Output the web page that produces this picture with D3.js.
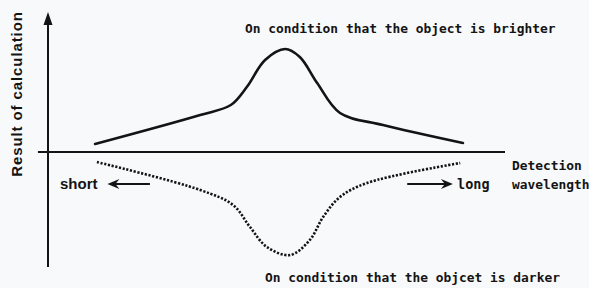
<!DOCTYPE html>
<html>
<head>
<meta charset="utf-8">
<script src="https://cdn.jsdelivr.net/npm/d3@7"></script>
<style>
  html, body { margin: 0; padding: 0; background: #f8f9fb; }
  svg { display: block; }
  .mono { font-family: "DejaVu Sans Mono", "Liberation Mono", monospace; font-weight: bold; }
  .sans { font-family: "Liberation Sans", Arial, sans-serif; font-weight: bold; }
</style>
</head>
<body>
<script>
// wavelength (arbitrary units) and calculation result for each condition
const brightX = [1.03, 3.33, 4.0, 4.35, 4.75, 5.19, 5.51, 5.89, 6.39, 7.33, 9.08];
const brightY = [0.08, 0.37, 0.47, 0.65, 0.92, 1.03, 0.95, 0.69, 0.39, 0.27, 0.09];
const darkX = [1.07, 3.33, 4.05, 4.42, 4.79, 5.30, 5.73, 6.02, 6.39, 6.98, 9.02];
const darkY = [-0.10, -0.38, -0.53, -0.75, -0.95, -1.03, -0.88, -0.65, -0.45, -0.31, -0.11];

const labels = {
  yAxis: "Result of calculation",
  bright: "On condition that the object is brighter",
  dark: "On condition that the objcet is darker",
  short: "short",
  long: "long",
  xAxis: ["Detection", "wavelength"]
};

const W = 589, H = 288;
const ink = "#141414";

const svg = d3.select("body").append("svg")
  .attr("width", W).attr("height", H);

const x = d3.scaleLinear().domain([0, 10]).range([48, 505]);
const y = d3.scaleLinear().domain([-1.15, 1.4]).range([267, 12]);

// axes
svg.append("line")
  .attr("x1", x(-0.22)).attr("x2", x(10))
  .attr("y1", y(0)).attr("y2", y(0))
  .attr("stroke", ink).attr("stroke-width", 2);

svg.append("line")
  .attr("x1", x(0)).attr("x2", x(0))
  .attr("y1", y(-1.15)).attr("y2", y(1.28))
  .attr("stroke", ink).attr("stroke-width", 2);

// arrow head on the y axis
svg.append("path")
  .attr("d", `M${x(0)},${y(1.4)} L${x(0) - 4.5},${y(1.27)} L${x(0) + 4.5},${y(1.27)} Z`)
  .attr("fill", ink);

const line = d3.line()
  .x(d => x(d[0]))
  .y(d => y(d[1]))
  .curve(d3.curveCatmullRom.alpha(0.5));

svg.append("path")
  .datum(d3.zip(brightX, brightY))
  .attr("d", line)
  .attr("fill", "none")
  .attr("stroke", ink)
  .attr("stroke-width", 2.6)
  .attr("stroke-linecap", "round");

svg.append("path")
  .datum(d3.zip(darkX, darkY))
  .attr("d", line)
  .attr("fill", "none")
  .attr("stroke", ink)
  .attr("stroke-width", 2.6)
  .attr("stroke-dasharray", "2.2,1.6");

// little direction arrows
function arrow(x1, x2, yy) {
  const dir = Math.sign(x2 - x1);
  svg.append("line")
    .attr("x1", x1).attr("x2", x2 - dir * 6)
    .attr("y1", yy).attr("y2", yy)
    .attr("stroke", ink).attr("stroke-width", 1.8);
  svg.append("path")
    .attr("d", `M${x2},${yy} L${x2 - dir * 12},${yy - 5} L${x2 - dir * 8},${yy} L${x2 - dir * 12},${yy + 5} Z`)
    .attr("fill", ink);
}
arrow(x(2.23), x(1.30), y(-0.32));
arrow(x(7.86), x(8.86), y(-0.32));

// texts
svg.append("text")
  .attr("class", "sans")
  .attr("transform", `translate(22,${y(0.58)}) rotate(-90)`)
  .attr("text-anchor", "middle")
  .attr("font-size", 15)
  .attr("letter-spacing", 0.9)
  .attr("fill", ink)
  .text(labels.yAxis);

svg.append("text")
  .attr("class", "mono")
  .attr("x", 245).attr("y", 33)
  .attr("font-size", 12.9)
  .attr("fill", ink)
  .text(labels.bright);

svg.append("text")
  .attr("class", "mono")
  .attr("x", 265).attr("y", 282)
  .attr("font-size", 12.9)
  .attr("fill", ink)
  .text(labels.dark);

svg.append("text")
  .attr("class", "sans")
  .attr("x", 60).attr("y", 189)
  .attr("font-size", 15)
  .attr("fill", ink)
  .text(labels.short);

svg.append("text")
  .attr("class", "mono")
  .attr("x", 457).attr("y", 189)
  .attr("font-size", 13.5)
  .attr("fill", ink)
  .text(labels.long);

svg.append("text")
  .attr("class", "mono")
  .attr("x", 512).attr("y", 170)
  .attr("font-size", 12.9)
  .attr("fill", ink)
  .text(labels.xAxis[0]);

svg.append("text")
  .attr("class", "mono")
  .attr("x", 512).attr("y", 189)
  .attr("font-size", 12.9)
  .attr("fill", ink)
  .text(labels.xAxis[1]);
</script>
</body>
</html>
